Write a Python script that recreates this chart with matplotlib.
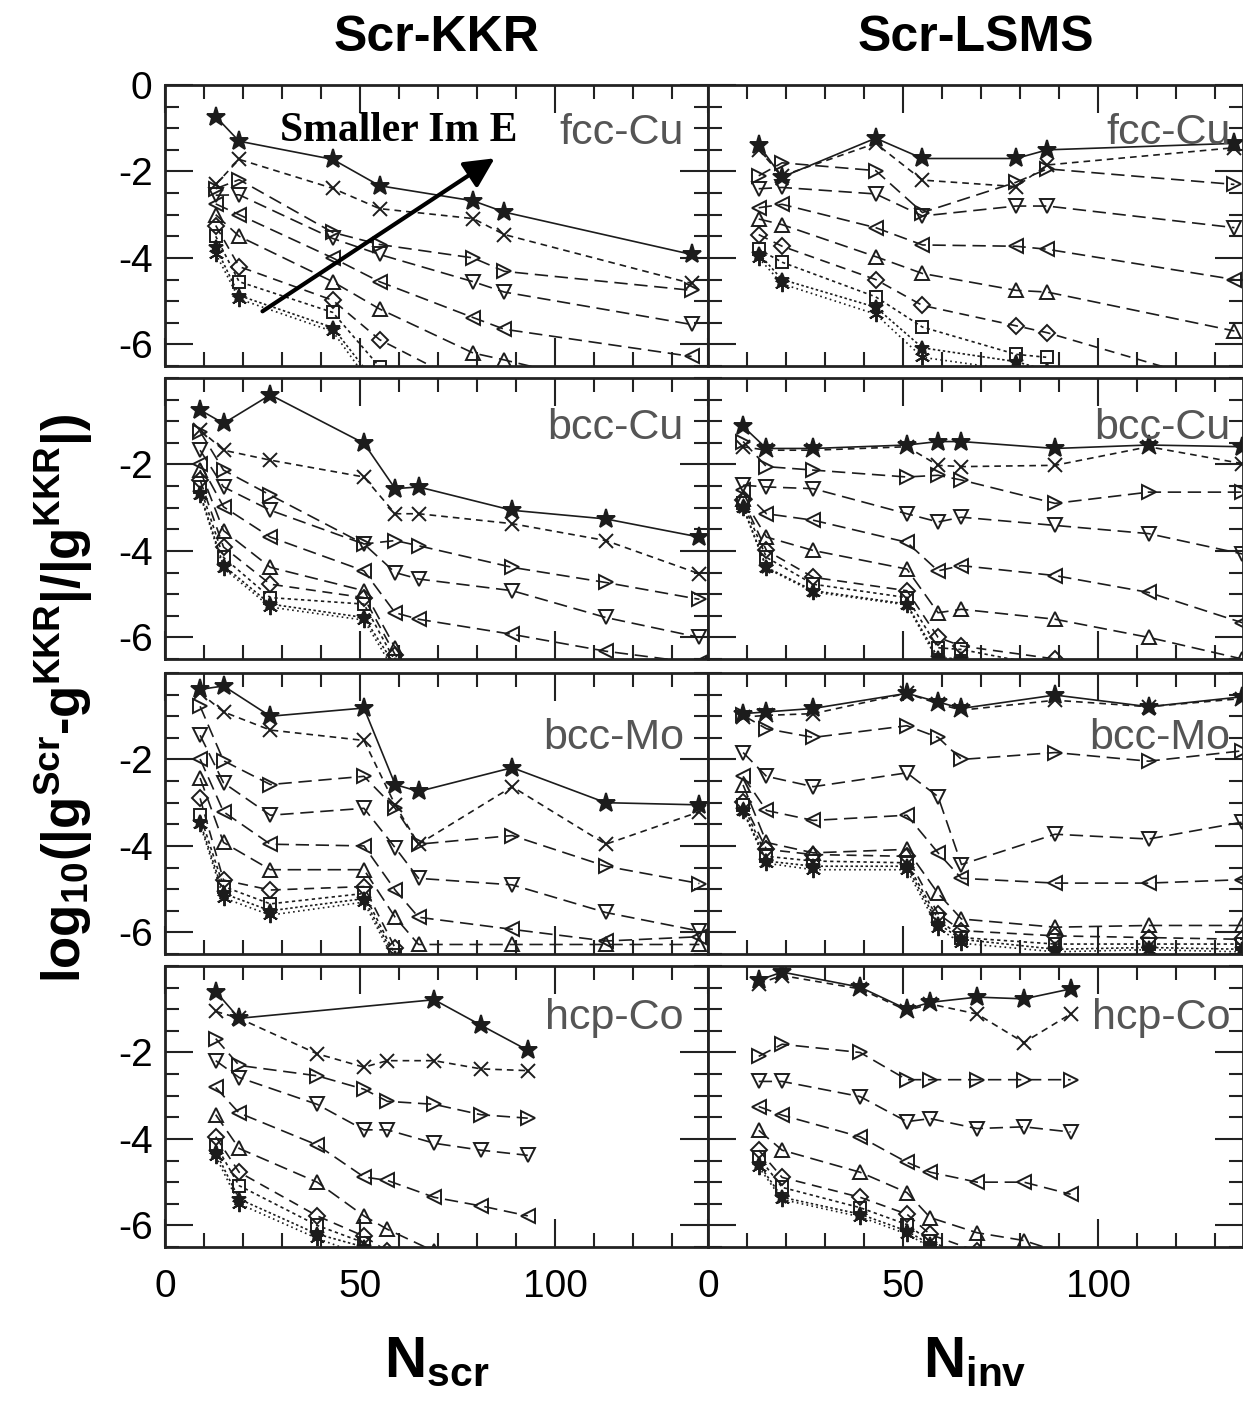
import numpy as np
import matplotlib.pyplot as plt
from matplotlib.ticker import MultipleLocator

plt.rcParams['font.family'] = ['Liberation Sans', 'DejaVu Sans']
plt.rcParams['axes.unicode_minus'] = False
plt.rcParams['mathtext.fontset'] = 'custom'
plt.rcParams['mathtext.rm'] = 'Liberation Sans'
plt.rcParams['mathtext.bf'] = 'Liberation Sans:bold'
plt.rcParams['mathtext.it'] = 'Liberation Sans:italic'

nan = np.nan

# cluster sizes (x values) per lattice
x_fcc = [13, 19, 43, 55, 79, 87, 135]
x_bcc = [9, 15, 27, 51, 59, 65, 89, 113, 137]
x_hcp = [13, 19, 39, 51, 57, 69, 81, 93]

# one row per energy (largest Im E first), log10 relative error
fcc_kkr = [
    [-0.73, -1.30, -1.72, -2.33, -2.68, -2.94, -3.92],
    [-2.30, -1.72, -2.39, -2.86, -3.09, -3.46, -4.59],
    [-2.40, -2.19, -3.41, -3.69, -4.00, -4.31, -4.75],
    [-2.55, -2.54, -3.55, -3.92, -4.55, -4.79, -5.54],
    [-2.75, -3.00, -4.00, -4.55, -5.38, -5.65, -6.28],
    [-3.00, -3.50, -4.55, -5.18, -6.20, -6.36, -7.40],
    [-3.25, -4.20, -4.98, -5.89, -7.00, -7.20, nan],
    [-3.50, -4.55, -5.26, -6.52, -7.50, nan, nan],
    [-3.75, -4.87, -5.61, -7.00, nan, nan, nan],
    [-3.90, -4.95, -5.70, -7.20, nan, nan, nan],
]
fcc_lsms = [
    [-1.39, -2.13, -1.23, -1.70, -1.70, -1.50, -1.35],
    [-1.50, -2.10, -1.35, -2.20, -2.35, -1.85, -1.45],
    [-2.10, -1.80, -1.98, -2.95, -2.25, -1.94, -2.30],
    [-2.40, -2.37, -2.52, -3.03, -2.80, -2.80, -3.30],
    [-2.84, -2.76, -3.30, -3.70, -3.73, -3.80, -4.50],
    [-3.10, -3.23, -3.97, -4.36, -4.75, -4.79, -5.69],
    [-3.46, -3.73, -4.50, -5.10, -5.57, -5.73, -7.00],
    [-3.80, -4.10, -4.90, -5.60, -6.23, -6.30, nan],
    [-3.90, -4.50, -5.14, -6.08, -6.40, -6.60, nan],
    [-4.00, -4.60, -5.30, -6.30, -6.60, -6.80, nan],
]
bcc_kkr = [
    [-0.74, -1.05, -0.39, -1.51, -2.56, -2.52, -3.06, -3.26, -3.68],
    [-1.20, -1.67, -1.90, -2.29, -3.14, -3.14, -3.37, -3.76, -4.53],
    [-1.24, -2.13, -2.71, -3.84, -3.76, -3.88, -4.38, -4.73, -5.12],
    [-1.67, -2.52, -3.06, -3.84, -4.50, -4.65, -4.92, -5.54, -6.00],
    [-1.98, -2.98, -3.68, -4.46, -5.43, -5.58, -5.93, -6.32, -6.60],
    [-2.13, -3.53, -4.38, -4.92, -6.24, -7.00, nan, nan, nan],
    [-2.36, -3.91, -4.77, -5.08, -6.40, -7.20, nan, nan, nan],
    [-2.52, -4.15, -5.08, -5.23, -6.55, -7.40, nan, nan, nan],
    [-2.67, -4.34, -5.23, -5.54, -6.65, nan, nan, nan, nan],
    [-2.70, -4.40, -5.30, -5.60, -6.80, nan, nan, nan, nan],
]
bcc_lsms = [
    [-1.12, -1.63, -1.63, -1.55, -1.47, -1.47, -1.63, -1.55, -1.59],
    [-1.59, -1.67, -1.67, -1.59, -2.02, -2.05, -2.02, -1.59, -1.98],
    [-1.47, -2.05, -2.13, -2.29, -2.25, -2.36, -2.90, -2.64, -2.64],
    [-2.48, -2.52, -2.56, -3.14, -3.33, -3.22, -3.41, -3.60, -4.07],
    [-2.60, -3.14, -3.29, -3.80, -4.46, -4.34, -4.57, -4.96, -5.66],
    [-2.79, -3.68, -3.99, -4.42, -5.43, -5.35, -5.58, -6.00, -6.50],
    [-2.83, -3.99, -4.61, -4.92, -6.00, -6.20, -6.50, -6.80, nan],
    [-2.90, -4.15, -4.77, -5.08, -6.24, -6.28, -6.70, nan, nan],
    [-2.98, -4.38, -4.92, -5.23, -6.47, -6.50, -6.90, nan, nan],
    [-3.00, -4.40, -4.95, -5.25, -6.55, -6.60, nan, nan, nan],
]
mo_kkr = [
    [-0.38, -0.30, -1.00, -0.81, -2.58, -2.74, -2.19, -3.00, -3.05],
    [-0.46, -0.90, -1.32, -1.56, -3.05, -3.96, -2.63, -3.96, -3.21],
    [-0.77, -2.03, -2.58, -2.39, -3.13, -3.96, -3.76, -4.47, -4.87],
    [-1.44, -2.54, -3.29, -3.13, -4.04, -4.75, -4.90, -5.54, -5.97],
    [-1.99, -3.21, -3.96, -4.00, -5.02, -5.65, -5.93, -6.20, -6.10],
    [-2.43, -3.92, -4.55, -4.55, -5.65, -6.28, -6.28, -6.28, -6.28],
    [-2.90, -4.79, -5.02, -4.94, -6.36, -7.00, nan, nan, nan],
    [-3.29, -4.94, -5.34, -5.10, -6.52, -7.20, nan, nan, nan],
    [-3.45, -5.10, -5.50, -5.22, -6.60, -7.30, nan, nan, nan],
    [-3.50, -5.20, -5.60, -5.30, -6.70, -7.40, nan, nan, nan],
]
mo_lsms = [
    [-0.94, -0.90, -0.82, -0.47, -0.67, -0.82, -0.51, -0.78, -0.55],
    [-1.02, -0.98, -0.94, -0.47, -0.71, -0.86, -0.63, -0.78, -0.59],
    [-0.98, -1.29, -1.49, -1.22, -1.49, -2.00, -1.84, -2.04, -1.80],
    [-1.84, -2.39, -2.63, -2.31, -2.86, -4.43, -3.73, -3.84, -3.45],
    [-2.39, -3.18, -3.41, -3.29, -4.16, -4.75, -4.86, -4.86, -4.78],
    [-2.59, -3.92, -4.16, -4.08, -5.10, -5.69, -5.88, -5.84, -5.84],
    [-2.98, -4.08, -4.20, -4.24, -5.57, -5.96, -6.08, -6.12, -6.16],
    [-3.06, -4.24, -4.35, -4.39, -5.69, -6.12, -6.27, -6.27, -6.27],
    [-3.18, -4.35, -4.47, -4.47, -5.80, -6.16, -6.39, -6.35, -6.39],
    [-3.20, -4.40, -4.55, -4.55, -5.90, -6.25, -6.45, -6.40, -6.45],
]
hcp_kkr = [
    [-0.59, -1.21, nan, nan, nan, -0.78, -1.37, -1.95],
    [-1.05, -1.21, -2.03, -2.34, -2.19, -2.19, -2.38, -2.42],
    [-1.68, -2.30, -2.54, -2.85, -3.13, -3.20, -3.44, -3.52],
    [-2.19, -2.58, -3.20, -3.79, -3.79, -4.10, -4.26, -4.38],
    [-2.81, -3.40, -4.14, -4.88, -4.96, -5.35, -5.55, -5.78],
    [-3.44, -4.22, -5.00, -5.78, -6.09, -6.60, nan, nan],
    [-3.95, -4.77, -5.78, -6.25, -6.60, nan, nan, nan],
    [-4.14, -5.08, -6.00, -6.40, -6.80, nan, nan, nan],
    [-4.30, -5.39, -6.20, -6.50, -6.90, nan, nan, nan],
    [-4.40, -5.50, -6.30, -6.70, -7.00, nan, nan, nan],
]
hcp_lsms = [
    [-0.33, -0.14, -0.49, -1.00, -0.84, -0.72, -0.76, -0.53],
    [-0.41, -0.22, -0.53, -1.03, -0.88, -1.11, -1.77, -1.11],
    [-2.09, -1.81, -2.00, -2.63, -2.63, -2.63, -2.63, -2.63],
    [-2.67, -2.67, -3.02, -3.60, -3.53, -3.76, -3.72, -3.84],
    [-3.25, -3.45, -3.95, -4.54, -4.77, -5.00, -5.00, -5.28],
    [-3.80, -4.26, -4.77, -5.24, -5.82, -6.17, -6.35, -6.70],
    [-4.26, -4.89, -5.35, -5.74, -6.21, -6.60, nan, nan],
    [-4.42, -5.12, -5.59, -5.98, -6.37, -6.80, nan, nan],
    [-4.58, -5.35, -5.74, -6.13, -6.44, -6.90, nan, nan],
    [-4.65, -5.40, -5.80, -6.20, -6.50, -7.00, nan, nan],
]

column_titles = ['Scr-KKR', 'Scr-LSMS']
row_labels = ['fcc-Cu', 'bcc-Cu', 'bcc-Mo', 'hcp-Co']
row_label_y = [-1.1, -1.15, -1.5, -1.2]

panels = [
    (x_fcc, fcc_kkr, x_fcc, fcc_lsms),
    (x_bcc, bcc_kkr, x_bcc, bcc_lsms),
    (x_bcc, mo_kkr, x_bcc, mo_lsms),
    (x_hcp, hcp_kkr, x_hcp, hcp_lsms),
]

# series styles
markers = ['*', 'x', '>', 'v', '<', '^', 'D', 's', '*', (6, 2, 0)]
msizes = [14, 10, 10, 10, 10, 10, 8, 9, 10, 11]
styles = ['-', (0, (4, 3)), (0, (8, 4)), (0, (8, 4)), (0, (8, 4)), (0, (8, 4)),
          (0, (6, 4)), (0, (2, 2)), (0, (1.5, 1.5)), (0, (1, 2))]
ink = '#1c1c1c'

W, H = 1243, 1403
fig = plt.figure(figsize=(W / 100, H / 100), dpi=100)

col_left = [165, 708]
col_right = [708, 1243]
col_xmax = [139.2, 137.2]
row_top = [85, 378, 673, 966]
row_h = 281


def draw_panel(ax, xs, series):
    xs = np.asarray(xs, float)
    for k, ys in enumerate(series):
        ys = np.asarray(ys, float)
        ok = ~np.isnan(ys)
        filled = k in (0, 8)
        ax.plot(xs[ok], ys[ok], color=ink, lw=1.2, ls=styles[k],
                marker=markers[k], ms=msizes[k],
                mfc=ink if filled else 'none', mec=ink, mew=1.4)


for r in range(4):
    for c in range(2):
        x0 = col_left[c] / W
        w = (col_right[c] - col_left[c]) / W
        y0 = 1 - (row_top[r] + row_h) / H
        ax = fig.add_axes([x0, y0, w, row_h / H])
        xs = panels[r][2 * c]
        vals = panels[r][2 * c + 1]
        draw_panel(ax, xs, vals)

        ax.set_xlim(0, col_xmax[c])
        ax.set_ylim(-6.5, 0)
        ax.set_xticks([0, 50, 100])
        ax.xaxis.set_minor_locator(MultipleLocator(10))
        ax.set_yticks([-6, -4, -2, 0] if r == 0 else [-6, -4, -2])
        ax.yaxis.set_minor_locator(MultipleLocator(0.5))
        ax.tick_params(which='both', direction='in', top=True, right=True,
                       labelsize=28, width=1.5, color='#222222')
        ax.tick_params(which='major', length=20, pad=9)
        ax.tick_params(which='minor', length=10)
        ax.tick_params(axis='x', which='major', pad=16)
        ax.tick_params(labelleft=(c == 0), labelbottom=(r == 3))
        for sp in ax.spines.values():
            sp.set_linewidth(2)
            sp.set_color('#222222')

        ax.text(133 if c == 0 else 134, row_label_y[r], row_labels[r],
                ha='right', va='center', fontsize=31, color='#555555', zorder=5)

        if r == 0 and c == 0:
            ax.annotate('', xy=(85.1, -1.66), xytext=(24.4, -5.27),
                        arrowprops=dict(arrowstyle='-|>', lw=3, color='black',
                                        mutation_scale=45), zorder=6)
            ax.text(60, -1.06, 'Smaller Im E', family='Liberation Serif',
                    weight='bold', fontsize=30, ha='center', va='center', zorder=6)

# column titles
for c in range(2):
    xc = (col_left[c] + col_right[c]) / 2 / W
    fig.text(xc, 1 - 38 / H, column_titles[c], ha='center', va='center',
             fontsize=36, weight='bold')

fig.text(437 / W, 1 - 1362 / H, r'$\mathbf{N_{scr}}$', ha='center', va='center',
         fontsize=42)
fig.text(975 / W, 1 - 1362 / H, r'$\mathbf{N_{inv}}$', ha='center', va='center',
         fontsize=42)
fig.text(64 / W, 1 - 698 / H,
         '$\\mathbf{log_{10}(|g^{Scr}\u2010g^{KKR}|/|g^{KKR}|)}$',
         rotation=90, ha='center', va='center', fontsize=38)

fig.savefig('out.png', dpi=100, facecolor='white')
